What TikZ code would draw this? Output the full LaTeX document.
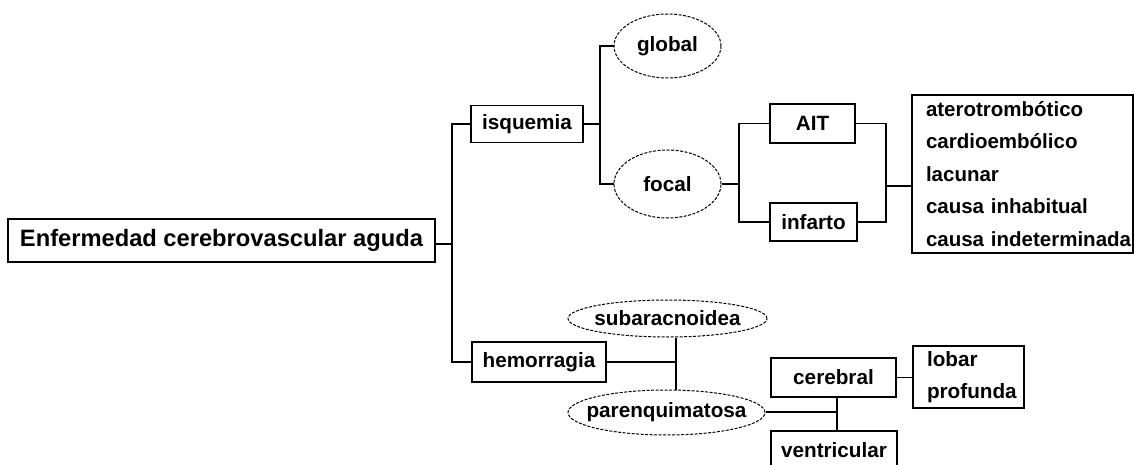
\documentclass[tikz,border=0pt]{standalone}
\usepackage{fontspec}
\setmainfont{Liberation Sans}
\usetikzlibrary{shapes.geometric}
\newfontfamily\labfont{Liberation Sans}[BoldFont={* Bold}]
\newcommand\ctext[1]{\makebox[0pt][c]{#1}}
\tikzset{
  box/.style={draw, line width=1.4pt, inner sep=0pt, font=\labfont\bfseries\fontsize{20.7}{24}\selectfont},
  ell/.style={draw, ellipse, line width=1pt, dash pattern=on 3pt off 1.5pt, inner sep=0pt, font=\labfont\bfseries\fontsize{20.7}{24}\selectfont},
  conn/.style={line width=1.4pt}
}
\begin{document}
\begin{tikzpicture}[x=1pt,y=-1pt]
\useasboundingbox (0,0) rectangle (1134,465);
\clip (0,0) rectangle (1134,465);
\fill[white] (0,0) rectangle (1134,465);
\node[box, minimum width=427, minimum height=43, font=\labfont\bfseries\fontsize{23.7}{28}\selectfont] (main) at (221.5,240.5) {Enfermedad cerebrovascular aguda};
\node[box, minimum width=112, minimum height=37] (isq) at (527,124) {isquemia};
\node[ell, minimum width=107, minimum height=64] (glob) at (667.5,46) {\ctext{global}};
\node[ell, minimum width=107, minimum height=68] (foc) at (667.5,184) {\ctext{focal}};
\node[box, minimum width=85, minimum height=39] (ait) at (812.5,123.5) {AIT};
\node[box, minimum width=87, minimum height=38] (inf) at (813.5,222) {infarto};
\node[box, minimum width=221, minimum height=158, align=left, text width=193,
  font=\labfont\bfseries\fontsize{20.5}{32.5}\selectfont] (etio) at (1022.5,174)
  {\mbox{aterotrombótico}\\\mbox{cardioembólico}\\\mbox{lacunar}\\\mbox{causa inhabitual}\\\mbox{causa indeterminada}};
\node[box, minimum width=134, minimum height=40] (hem) at (539,362) {hemorragia};
\node[ell, minimum width=199, minimum height=37] (sub) at (667.5,318.5) {\ctext{subaracnoidea}};
\node[ell, minimum width=197, minimum height=45] (par) at (666.5,412.5) {\ctext{parenquimatosa}};
\node[box, minimum width=125, minimum height=39] (cer) at (833.5,377.5) {cerebral};
\node[box, minimum width=111, minimum height=62, align=left, text width=83,
  font=\labfont\bfseries\fontsize{20.7}{32}\selectfont] (lob) at (968.5,377) {lobar\\profunda};
\node[box, minimum width=126, minimum height=39] (ven) at (834,450.5) {ventricular};
% connectors
\coordinate (j1) at (452,244);
\draw[conn] (main.east |- j1) -- (j1);
\draw[conn] (j1) |- (isq.west);
\draw[conn] (j1) |- (hem.west);
\coordinate (j2) at (600,124);
\draw[conn] (isq.east) -- (j2);
\draw[conn] (j2) |- (glob.west);
\draw[conn] (j2) |- (foc.west);
\coordinate (j3) at (739,184);
\draw[conn] (foc.east) -- (j3);
\draw[conn] (j3) |- (ait.west);
\draw[conn] (j3) |- (inf.west);
\coordinate (j4) at (886,186);
\draw[conn] (ait.east) -| (j4);
\draw[conn] (j4) |- (inf.east);
\draw[conn] (j4) -- (j4 -| etio.west);
\coordinate (j5) at (676,362);
\draw[conn] (hem.east) -- (j5);
\draw[conn] (sub.south -| j5) -- (par.north -| j5);
\coordinate (j6) at (837,412);
\draw[conn] (par.east |- j6) -- (j6);
\draw[conn] (cer.south -| j6) -- (ven.north -| j6);
\draw[conn] (cer.east) -- (cer.east -| lob.west);
\end{tikzpicture}
\end{document}
